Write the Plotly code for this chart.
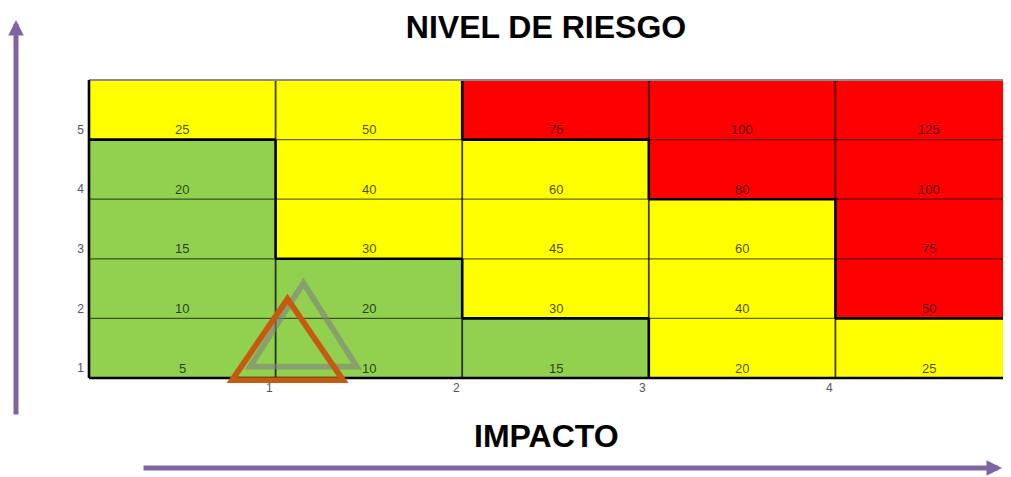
import plotly.graph_objects as go

# ---------------- data ----------------
impacto = [1, 2, 3, 4, 5]
probabilidad = [1, 2, 3, 4, 5]
# zone codes: 0 = verde, 1 = amarillo, 2 = rojo (rows: probabilidad 1..5)
zona = [
    [0, 0, 0, 1, 1],
    [0, 0, 1, 1, 2],
    [0, 1, 1, 1, 2],
    [0, 1, 1, 2, 2],
    [1, 1, 2, 2, 2],
]
valores = [
    [5, 10, 15, 20, 25],
    [10, 20, 30, 40, 50],
    [15, 30, 45, 60, 75],
    [20, 40, 60, 80, 100],
    [25, 50, 75, 100, 125],
]
x_tick_labels = ["1", "2", "3", "4"]
y_tick_labels = ["1", "2", "3", "4", "5"]

# triangle markers (data units): centre x, base y, width, height
tri_nombre = ["residual", "inherente"]
tri_centro_x = [1.149, 1.064]
tri_base_y = [0.19, -0.034]
tri_ancho = [0.572, 0.595]
tri_alto = [1.404, 1.36]
tri_color = ["rgba(128,128,128,0.6)", "#C55A11"]

colores_zona = ["#92D050", "#FFFF00", "#FF0000"]

# ---------------- layout geometry ----------------
OFF = 8  # page body margin
W, H = 1011 - 2 * OFF, 477 - OFF
px_x = 186.6
px_y = 59.6
x0_px = 89 - OFF
y5_px = 80 - OFF
ML, MR, MT = x0_px - 4, 0, y5_px - 2
bottom_px = 384 - OFF
MB = H - bottom_px
plot_w = W - ML - MR
plot_h = H - MT - MB
x_lo = -(x0_px - ML) / px_x
x_hi = x_lo + plot_w / px_x
y_hi = 5 + (y5_px - MT) / px_y
y_lo = y_hi - plot_h / px_y

fig = go.Figure()

ncols = len(impacto)
nrows = len(probabilidad)

cs = [[0, colores_zona[0]], [0.3333, colores_zona[0]],
      [0.3333, colores_zona[1]], [0.6667, colores_zona[1]],
      [0.6667, colores_zona[2]], [1, colores_zona[2]]]

fig.add_trace(go.Heatmap(
    z=zona,
    x=[i - 0.5 for i in impacto],
    y=[p - 0.5 for p in probabilidad],
    colorscale=cs, zmin=0, zmax=2, showscale=False,
    hoverinfo="skip", zsmooth=False,
))

thin = []
thick = []
# vertical boundaries
for k in range(1, ncols):
    for r in range(nrows):
        seg = dict(type="line", x0=k, x1=k, y0=r, y1=r + 1, xref="x", yref="y")
        if zona[r][k - 1] != zona[r][k]:
            thick.append(seg)
        else:
            seg["line"] = dict(color="rgba(0,0,0,0.75)", width=1.8)
            thin.append(seg)
# horizontal boundaries
for k in range(1, nrows):
    for c in range(ncols):
        seg = dict(type="line", x0=c, x1=c + 1, y0=k, y1=k, xref="x", yref="y")
        if zona[k - 1][c] != zona[k][c]:
            thick.append(seg)
        else:
            seg["line"] = dict(color="rgba(0,0,0,0.6)", width=1.3)
            thin.append(seg)
for s in thick:
    s["line"] = dict(color="#000000", width=2.6)
# outer borders
outer = [
    dict(type="line", x0=0, x1=ncols, y0=nrows, y1=nrows, xref="x", yref="y",
         line=dict(color="#8c8c8c", width=2.2)),
    dict(type="line", x0=0, x1=0, y0=0, y1=nrows, xref="x", yref="y",
         line=dict(color="#000000", width=2.6)),
    dict(type="line", x0=0, x1=ncols, y0=0, y1=0, xref="x", yref="y",
         line=dict(color="#000000", width=2.6)),
]
shapes = thin + thick + outer

# triangles
for cx, by, w, h, col in zip(tri_centro_x, tri_base_y, tri_ancho, tri_alto, tri_color):
    path = (f"M{cx - w / 2},{by} L{cx + w / 2},{by} L{cx},{by + h} Z")
    shapes.append(dict(type="path", path=path, xref="x", yref="y",
                       line=dict(color=col, width=5.8)))

annotations = []
# cell values
for r in range(nrows):
    for c in range(ncols):
        annotations.append(dict(
            x=impacto[c] - 0.5, y=probabilidad[r] - 1, xref="x", yref="y",
            text=str(valores[r][c]), showarrow=False, yshift=10,
            yanchor="middle", xanchor="center",
            font=dict(family="Liberation Sans", size=13, color="rgba(0,0,0,0.72)"),
        ))
# x tick labels
for i, t in enumerate(x_tick_labels):
    annotations.append(dict(
        x=impacto[i] - 6 / px_x, y=0, xref="x", yref="y", text=t,
        showarrow=False, yshift=-10, yanchor="middle", xanchor="center",
        font=dict(family="Liberation Sans", size=12, color="#555560"),
    ))


def paper_x(px):
    return (px - OFF - ML) / plot_w


def paper_y(py):
    return (H - MB - (py - OFF)) / plot_h


# IMPACTO label
annotations.append(dict(
    x=paper_x(546), y=paper_y(436), xref="paper", yref="paper",
    text="<b>IMPACTO</b>", showarrow=False, xanchor="center", yanchor="middle",
    font=dict(family="Liberation Sans", size=32, color="#000000"),
))
# arrows
annotations.append(dict(
    x=paper_x(16), y=paper_y(20), xref="paper", yref="paper", text="",
    showarrow=True, ax=0, ay=416 - 20, axref="pixel", ayref="pixel",
    arrowhead=2, arrowsize=0.62, arrowwidth=5, arrowcolor="#8064A2", standoff=0,
))
annotations.append(dict(
    x=paper_x(1002), y=paper_y(468), xref="paper", yref="paper", text="",
    showarrow=True, ax=-(1002 - 142), ay=0, axref="pixel", ayref="pixel",
    arrowhead=2, arrowsize=0.62, arrowwidth=5, arrowcolor="#8064A2", standoff=0,
))

fig.update_layout(
    width=W, height=H,
    margin=dict(l=ML, r=MR, t=MT, b=MB, pad=0),
    paper_bgcolor="white", plot_bgcolor="white",
    title=dict(text="<b>NIVEL DE RIESGO</b>", x=(546 - OFF) / W, xref="container",
               xanchor="center", y=1 - (27 - OFF) / H, yref="container", yanchor="middle",
               font=dict(family="Liberation Sans", size=32, color="#000000")),
    shapes=shapes, annotations=annotations, showlegend=False,
)
fig.update_xaxes(range=[x_lo, x_hi], showgrid=False, zeroline=False,
                 showticklabels=False, ticks="", automargin=False, fixedrange=True)
fig.update_yaxes(range=[y_lo, y_hi], showgrid=False, zeroline=False,
                 tickmode="array",
                 tickvals=[p - 1 + 10 / px_y for p in probabilidad],
                 ticktext=y_tick_labels, ticks="", ticklen=0,
                 tickfont=dict(family="Liberation Sans", size=12, color="#555560"),
                 automargin=False, fixedrange=True)

fig.write_html("out.html")
